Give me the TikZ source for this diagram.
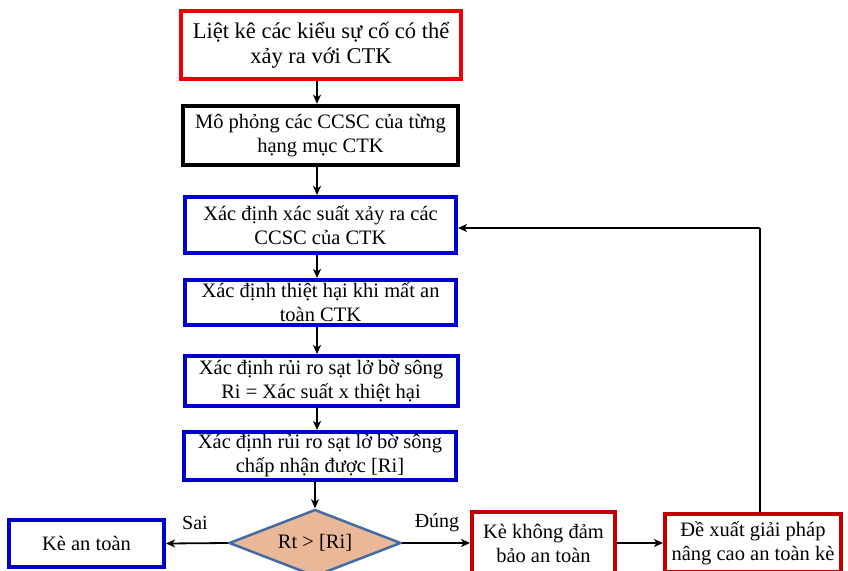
\documentclass[tikz,border=0pt]{standalone}
\usepackage{fontspec}
\setmainfont{Liberation Serif}
\usetikzlibrary{arrows.meta,shapes.geometric}

\definecolor{brightred}{RGB}{236,0,0}
\definecolor{boxblue}{RGB}{0,0,204}
\definecolor{darkred}{RGB}{192,0,0}
\definecolor{peach}{RGB}{233,184,152}
\definecolor{steel}{RGB}{68,108,164}

\tikzset{
  stepbox/.style={draw, line width=4pt, fill=white, inner sep=0pt, align=center,
    font=\fontsize{20.5}{24}\selectfont},
  redbox/.style={stepbox, draw=brightred},
  blackbox/.style={stepbox, draw=black, line width=4.5pt},
  bluebox/.style={stepbox, draw=boxblue},
  dredbox/.style={stepbox, draw=darkred},
  decision/.style={diamond, draw=steel, line width=2.5pt, fill=peach, inner sep=0pt,
    font=\fontsize{20.5}{24}\selectfont},
  arr/.style={draw=black, line width=1.8pt, -{Stealth[length=9pt,width=8pt,inset=2.5pt]}},
  lbl/.style={font=\fontsize{20}{24}\selectfont, inner sep=0pt}
}

\begin{document}
\begin{tikzpicture}[x=1pt,y=-1pt]
  \useasboundingbox (0,0) rectangle (848,570);
  \clip (0,0) rectangle (848,570);
  \fill[white] (0,0) rectangle (848,570);

  % main column of steps
  \node[redbox, minimum width=280, minimum height=68, font=\fontsize{22.5}{25}\selectfont]
    (B1) at (321,45) {Liệt kê các kiểu sự cố có thể\\xảy ra với CTK};
  \node[blackbox, minimum width=275, minimum height=59]
    (B2) at (320.5,135.5) {Mô phỏng các CCSC của từng\\hạng mục CTK};
  \node[bluebox, minimum width=271, minimum height=56]
    (B3) at (320.5,225) {Xác định xác suất xảy ra các\\CCSC của CTK};
  \node[bluebox, minimum width=271, minimum height=45]
    (B4) at (320.5,302.5) {Xác định thiệt hại khi mất an\\toàn CTK};
  \node[bluebox, minimum width=273, minimum height=50]
    (B5) at (321,381) {Xác định rủi ro sạt lở bờ sông\\Ri = Xác suất x thiệt hại};
  \node[bluebox, minimum width=272, minimum height=48]
    (B6) at (320,456) {Xác định rủi ro sạt lở bờ sông\\chấp nhận được [Ri]};

  % decision and outcomes
  \node[decision, minimum width=172, minimum height=67, aspect=2.6]
    (D) at (315,543) {Rt > [Ri]};
  \node[bluebox, minimum width=155, minimum height=47]
    (Safe) at (86.5,543.5) {Kè an toàn};
  \node[dredbox, minimum width=143, minimum height=62]
    (Unsafe) at (543.5,543) {Kè không đảm\\bảo an toàn};
  \node[dredbox, minimum width=176, minimum height=58]
    (Fix) at (753,543) {Đề xuất giải pháp\\nâng cao an toàn kè};
  \coordinate (loop) at (760,228);

  % connectors
  \draw[arr] (B1.south -| 317,0) -- (B2.north -| 317,0);
  \draw[arr] (B2.south -| 317,0) -- (B3.north -| 317,0);
  \draw[arr] (B3.south -| 317,0) -- (B4.north -| 317,0);
  \draw[arr] (B4.south -| 317,0) -- (B5.north -| 317,0);
  \draw[arr] (B5.south -| 317,0) -- (B6.north -| 317,0);
  \draw[arr] (B6.south -| D.north) -- (D.north);
  \draw[arr] (D.west) -- (Safe.east);
  \draw[arr] (D.east) -- (Unsafe.west);
  \draw[arr] (Unsafe.east) -- (Fix.west);
  \draw[arr, rounded corners=1pt] (Fix.north -| loop) -- (loop) -- (loop -| B3.east);

  % branch labels
  \node[lbl] (no) at (195,523) {Sai};
  \node[lbl] (yes) at (437,523) {Đúng};
\end{tikzpicture}
\end{document}
